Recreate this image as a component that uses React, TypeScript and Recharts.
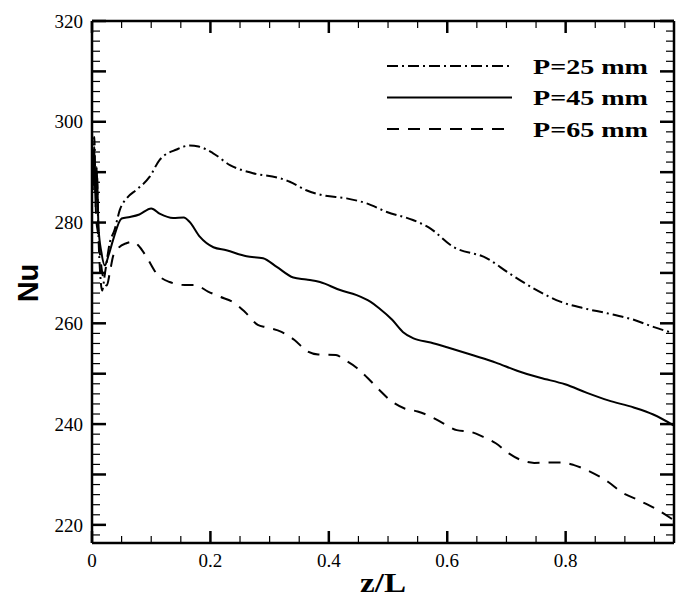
import React from 'react'
import { LineChart, Line, XAxis, YAxis, Legend } from 'recharts'

// Nu along the channel for three pitches
const p25Z = [0, 0.002, 0.004, 0.006, 0.008, 0.011, 0.014, 0.017, 0.022, 0.03, 0.038, 0.047, 0.06, 0.075, 0.0975, 0.114, 0.143, 0.165, 0.18, 0.204, 0.233, 0.272, 0.317, 0.334, 0.362, 0.39, 0.43, 0.464, 0.498, 0.542, 0.568, 0.61, 0.667, 0.705, 0.751, 0.791, 0.83, 0.87, 0.915, 0.948, 0.983]
const p25Nu = [298, 291, 297, 286, 290, 277, 269.5, 266.5, 270, 276, 278.5, 282.5, 285, 286.5, 289.1, 292.4, 294.5, 295.3, 295.1, 293.8, 291.4, 289.8, 288.8, 288.1, 286.4, 285.4, 284.8, 283.8, 282.1, 280.5, 279.1, 275.2, 272.9, 269.9, 266.6, 264.3, 263.0, 262.0, 260.7, 259.3, 258.0]

const p45Z = [0, 0.002, 0.004, 0.006, 0.008, 0.011, 0.016, 0.0216, 0.028, 0.0355, 0.05, 0.064, 0.08, 0.1, 0.115, 0.137, 0.155, 0.165, 0.182, 0.205, 0.227, 0.261, 0.289, 0.312, 0.34, 0.362, 0.385, 0.419, 0.447, 0.47, 0.485, 0.507, 0.525, 0.543, 0.572, 0.601, 0.645, 0.682, 0.718, 0.757, 0.799, 0.836, 0.872, 0.915, 0.948, 0.983]
const p45Nu = [297, 288, 295, 283, 291, 279, 274, 271.5, 273.5, 276.5, 280.8, 281.1, 281.6, 282.8, 281.7, 280.9, 281.0, 280.1, 277.2, 275.1, 274.5, 273.3, 272.9, 271.2, 269.1, 268.7, 268.2, 266.6, 265.6, 264.3, 263.0, 260.7, 258.3, 257.0, 256.2, 255.2, 253.6, 252.2, 250.6, 249.2, 247.9, 246.2, 244.7, 243.3, 241.9, 239.7]

const p65Z = [0, 0.002, 0.004, 0.007, 0.01, 0.015, 0.02, 0.025, 0.03, 0.036, 0.045, 0.058, 0.07, 0.078, 0.092, 0.109, 0.131, 0.157, 0.174, 0.196, 0.216, 0.241, 0.258, 0.28, 0.295, 0.32, 0.342, 0.364, 0.382, 0.412, 0.426, 0.448, 0.466, 0.485, 0.503, 0.528, 0.55, 0.572, 0.594, 0.616, 0.638, 0.66, 0.682, 0.704, 0.726, 0.747, 0.791, 0.813, 0.842, 0.872, 0.893, 0.923, 0.952, 0.983]
const p65Nu = [293, 286, 292, 281, 278, 272, 268.5, 267.5, 270, 273.5, 275, 275.9, 276.2, 275.5, 273.2, 269.9, 268.2, 267.6, 267.6, 266.3, 265.3, 264.0, 262.3, 259.7, 259.2, 258.3, 256.7, 254.4, 253.8, 253.7, 252.8, 251.1, 249.1, 246.8, 244.8, 243.1, 242.5, 241.5, 240.1, 238.8, 238.5, 237.5, 236.2, 234.2, 232.8, 232.3, 232.4, 231.9, 230.5, 228.5, 226.6, 224.9, 223.2, 220.9]

const seriesNames = ['P=25 mm', 'P=45 mm', 'P=65 mm']
const xTickLabels = [0, 0.2, 0.4, 0.6, 0.8]
const yTickLabels = [220, 240, 260, 280, 300, 320]

const X_MAX = 0.983
const Y_MIN = 216.4

const xTicks = Array.from({ length: 20 }, (_, i) => +(i * 0.05).toFixed(2))
const yTicks = Array.from({ length: 52 }, (_, i) => 218 + i * 2)

const toRows = (zs: number[], nus: number[]) => zs.map((z, i) => ({ z, nu: nus[i] }))
const p25Data = toRows(p25Z, p25Nu)
const p45Data = toRows(p45Z, p45Nu)
const p65Data = toRows(p65Z, p65Nu)

const DASHES = ['11 4 2 4', undefined, '12 9']
const SERIF = '"Liberation Serif", "Times New Roman", Times, serif'
const serifStyle = { fontFamily: SERIF }

const isMajorX = (v: number) => Math.abs(v / 0.2 - Math.round(v / 0.2)) < 1e-6
const isMajorY = (v: number) => v % 10 === 0

const BottomTick = ({ x, y, payload }: any) => {
  const v = payload.value
  const major = isMajorX(v)
  const label = xTickLabels.find(t => Math.abs(t - v) < 1e-6)
  return (
    <g>
      <line x1={x} x2={x} y1={y} y2={y - (major ? 12 : 7)} stroke="#000" strokeWidth={major ? 2.5 : 1.2} />
      {label !== undefined && (
        <text x={x} y={y + 24} textAnchor="middle" style={serifStyle} fontSize={19} fill="#000">
          {label === 0 ? '0' : label.toFixed(1)}
        </text>
      )}
    </g>
  )
}

const TopTick = ({ x, y, payload }: any) => {
  const major = isMajorX(payload.value)
  return <line x1={x} x2={x} y1={y} y2={y + (major ? 12 : 7)} stroke="#000" strokeWidth={major ? 2.5 : 1.2} />
}

const LeftTick = ({ x, y, payload }: any) => {
  const v = payload.value
  const major = isMajorY(v)
  return (
    <g>
      <line x1={x} x2={x + (major ? 14 : 8)} y1={y} y2={y} stroke="#000" strokeWidth={major ? 2.5 : 1.2} />
      {yTickLabels.includes(v) && (
        <text x={x - 9} y={y} dy="0.35em" textAnchor="end" style={serifStyle} fontSize={19} fill="#000">
          {v}
        </text>
      )}
    </g>
  )
}

const RightTick = ({ x, y, payload }: any) => {
  const major = isMajorY(payload.value)
  return <line x1={x} x2={x - (major ? 14 : 8)} y1={y} y2={y} stroke="#000" strokeWidth={major ? 2.5 : 1.2} />
}

const LegendBox = () => (
  <svg width={290} height={100}>
    {seriesNames.map((name, i) => {
      const cy = 14 + i * 31.5
      return (
        <g key={name}>
          <line x1={7} x2={132} y1={cy} y2={cy} stroke="#000" strokeWidth={2} strokeDasharray={DASHES[i]} />
          <text x={153} y={cy + 7.5} style={serifStyle} fontWeight="bold" fontSize={22} textLength={115} lengthAdjust="spacingAndGlyphs" fill="#000">
            {name}
          </text>
        </g>
      )
    })}
  </svg>
)

export default function App() {
  return (
    <div style={{ position: 'absolute', left: 0, top: 0, background: '#fff' }}>
      <LineChart width={676} height={599} margin={{ top: 20, right: 1, bottom: 16, left: 32 }}>
        <XAxis
          xAxisId="bottom"
          dataKey="z"
          type="number"
          domain={[0, X_MAX]}
          allowDataOverflow
          ticks={xTicks}
          interval={0}
          height={40}
          tickSize={0}
          tickMargin={0}
          tickLine={false}
          tick={<BottomTick />}
          axisLine={{ stroke: '#000', strokeWidth: 2.5 }}
          label={{
            content: () => (
              <text x={383} y={592} textAnchor="middle" style={serifStyle} fontWeight="bold" fontSize={27} textLength={46} lengthAdjust="spacingAndGlyphs" fill="#000">
                z/L
              </text>
            )
          }}
        />
        <XAxis
          xAxisId="top"
          orientation="top"
          dataKey="z"
          type="number"
          domain={[0, X_MAX]}
          allowDataOverflow
          ticks={xTicks}
          interval={0}
          height={1}
          tickSize={0}
          tickMargin={0}
          tickLine={false}
          tick={<TopTick />}
          axisLine={{ stroke: '#000', strokeWidth: 2.5 }}
        />
        <YAxis
          yAxisId="left"
          type="number"
          domain={[Y_MIN, 320]}
          allowDataOverflow
          ticks={yTicks}
          interval={0}
          width={60}
          tickSize={0}
          tickMargin={0}
          tickLine={false}
          tick={<LeftTick />}
          axisLine={{ stroke: '#000', strokeWidth: 2.5 }}
          label={{
            content: () => (
              <text x={38} y={283} transform="rotate(-90 38 283)" textAnchor="middle" style={{ fontFamily: '"Liberation Sans", Arial, sans-serif' }} fontWeight="bold" fontSize={29} fill="#000">
                Nu
              </text>
            )
          }}
        />
        <YAxis
          yAxisId="right"
          orientation="right"
          type="number"
          domain={[Y_MIN, 320]}
          allowDataOverflow
          ticks={yTicks}
          interval={0}
          width={1}
          tickSize={0}
          tickMargin={0}
          tickLine={false}
          tick={<RightTick />}
          axisLine={{ stroke: '#000', strokeWidth: 2.5 }}
        />
        <Legend
          layout="horizontal"
          verticalAlign="middle"
          align="center"
          wrapperStyle={{ top: 52, left: 380, width: 290 }}
          content={<LegendBox />}
        />
        {[p25Data, p45Data, p65Data].map((rows, i) => (
          <Line
            key={seriesNames[i]}
            name={seriesNames[i]}
            data={rows}
            dataKey="nu"
            xAxisId="bottom"
            yAxisId="left"
            type="monotone"
            stroke="#000"
            strokeWidth={2}
            strokeDasharray={DASHES[i]}
            dot={false}
            activeDot={false}
            isAnimationActive={false}
          />
        ))}
      </LineChart>
    </div>
  )
}
